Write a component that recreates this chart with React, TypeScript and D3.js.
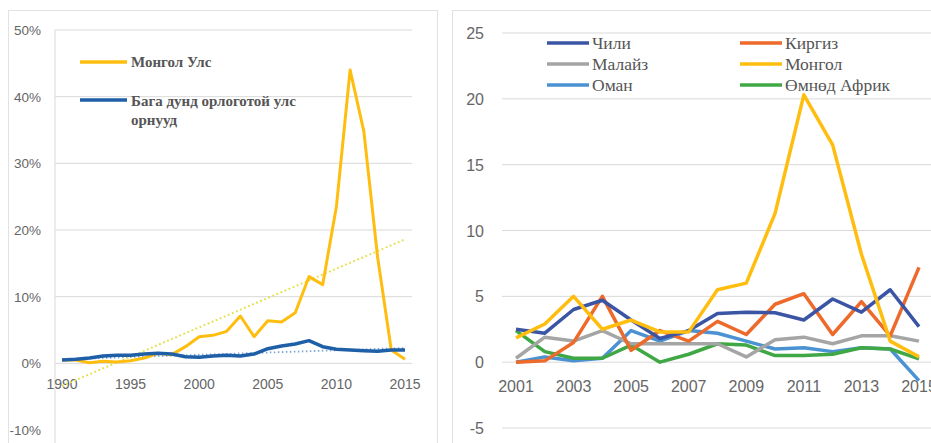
import * as d3 from "d3";
import React from "react";

// left chart: FDI share, 1990-2015
const yearsL = d3.range(1990, 2016);
const mongoliaL = [0.5, 0.5, 0.1, 0.3, 0.2, 0.4, 0.8, 1.5, 1.3, 2.5, 4.0, 4.2, 4.8, 7.1, 4.0, 6.4, 6.2, 7.6, 13.0, 11.8, 23.5, 44.0, 34.8, 16.0, 2.0, 0.6];
const lowerMid = [0.5, 0.6, 0.8, 1.1, 1.2, 1.2, 1.4, 1.5, 1.4, 1.0, 0.9, 1.1, 1.2, 1.1, 1.4, 2.2, 2.6, 2.9, 3.4, 2.5, 2.1, 2.0, 1.9, 1.8, 2.0, 2.0];
const trendMongolia = [-3.4, 18.6]; // 1990, 2015
const trendLowerMid = [0.6, 2.3];
const ticksL = [-10, 0, 10, 20, 30, 40, 50];
const xTicksL = [1990, 1995, 2000, 2005, 2010, 2015];

// right chart: 2001-2015
const yearsR = d3.range(2001, 2016);
const chile = [2.5, 2.2, 4.0, 4.7, 3.2, 1.8, 2.4, 3.7, 3.8, 3.75, 3.2, 4.8, 3.8, 5.5, 2.7];
const kyrgyz = [0.0, 0.1, 1.5, 5.0, 0.9, 2.4, 1.6, 3.1, 2.1, 4.4, 5.2, 2.1, 4.6, 2.0, 7.2];
const malaysia = [0.3, 1.9, 1.6, 2.4, 1.4, 1.4, 1.4, 1.4, 0.4, 1.7, 1.9, 1.4, 2.0, 2.0, 1.6];
const mongolia = [1.85, 2.9, 5.0, 2.5, 3.2, 2.3, 2.3, 5.5, 6.0, 11.3, 20.3, 16.5, 8.2, 1.6, 0.4];
const oman = [0.0, 0.4, 0.1, 0.3, 2.4, 1.6, 2.4, 2.2, 1.6, 1.0, 1.1, 0.8, 1.1, 1.0, -1.4];
const southAfrica = [2.4, 0.8, 0.3, 0.3, 1.3, 0.0, 0.6, 1.4, 1.3, 0.5, 0.5, 0.6, 1.1, 1.0, 0.25];
const ticksR = [-5, 0, 5, 10, 15, 20, 25];
const xTicksR = [2001, 2003, 2005, 2007, 2009, 2011, 2013, 2015];

const seriesR = [
  { name: "Чили", values: chile, color: "#3b55a5" },
  { name: "Киргиз", values: kyrgyz, color: "#ed6a2a" },
  { name: "Малайз", values: malaysia, color: "#a5a5a5" },
  { name: "Монгол", values: mongolia, color: "#ffbe0f" },
  { name: "Оман", values: oman, color: "#4a92d2" },
  { name: "Өмнөд Африк", values: southAfrica, color: "#3fa845" },
];
// draw order (back to front)
const drawOrder = ["Оман", "Өмнөд Африк", "Малайз", "Киргиз", "Чили", "Монгол"];

const grid = "#d9d9d9";
const tickColor = "#666";
const legendColor = "#555";

export default function App() {
  // left
  const xL = d3.scaleLinear().domain([1990, 2015]).range([62, 405]);
  const yL = d3.scaleLinear().domain([-10, 50]).range([430, 30]);
  const lineL = d3.line<number>().x((_, i) => xL(yearsL[i])).y((d) => yL(d));

  // right
  const xR = d3.scaleLinear().domain([2001, 2015]).range([516, 919]);
  const yR = d3.scaleLinear().domain([-5, 25]).range([428, 33]);
  const lineR = d3.line<number>().x((_, i) => xR(yearsR[i])).y((d) => yR(d));

  return (
    <svg width={931} height={443} style={{ position: "absolute", left: 0, top: 0, background: "#fff" }}>
      {/* panel frames */}
      <rect x={8.5} y={10.5} width={429} height={440} fill="#fff" stroke="#e2e2e2" />
      <rect x={452.5} y={10.5} width={490} height={440} fill="#fff" stroke="#e2e2e2" />

      {/* ---- left chart ---- */}
      <g fontFamily="'Liberation Sans', Arial, sans-serif">
        {ticksL.map((t) => (
          <g key={t}>
            {t !== 0 && t !== -10 && (
              <line x1={55} x2={412} y1={yL(t)} y2={yL(t)} stroke={grid} strokeWidth={1} />
            )}
            <text x={41} y={yL(t) + 5} textAnchor="end" fontSize={13.5} fill={tickColor}>
              {t}%
            </text>
          </g>
        ))}
        <line x1={55} x2={55} y1={30} y2={443} stroke={grid} />
        <line x1={55} x2={412} y1={yL(0)} y2={yL(0)} stroke={grid} />
        {xTicksL.map((t) => (
          <text key={t} x={xL(t)} y={389} textAnchor="middle" fontSize={14} fill={tickColor}>
            {t}
          </text>
        ))}
      </g>
      <line x1={xL(1990)} x2={xL(2015)} y1={yL(trendLowerMid[0])} y2={yL(trendLowerMid[1])}
        stroke="#7fa7d6" strokeWidth={1.8} strokeDasharray="1.5 2.5" />
      <line x1={xL(1990)} x2={xL(2015)} y1={yL(trendMongolia[0])} y2={yL(trendMongolia[1])}
        stroke="#e3e04a" strokeWidth={2} strokeDasharray="1.8 2.6" />
      <path d={lineL(mongoliaL) ?? ""} fill="none" stroke="#ffbe0f" strokeWidth={3} strokeLinejoin="round" />
      <path d={lineL(lowerMid) ?? ""} fill="none" stroke="#1f5fa8" strokeWidth={3.5} strokeLinejoin="round" />

      <g fontFamily="'Liberation Serif', 'Times New Roman', serif" fontSize={15} fill={legendColor} fontWeight="bold">
        <line x1={80} x2={127} y1={62} y2={62} stroke="#ffbe0f" strokeWidth={3.5} />
        <text x={131} y={67}>Монгол Улс</text>
        <line x1={80} x2={127} y1={100} y2={100} stroke="#1f5fa8" strokeWidth={3.5} />
        <text x={131} y={106}>Бага дунд орлоготой улс</text>
        <text x={131} y={125}>орнууд</text>
      </g>

      {/* ---- right chart ---- */}
      <g fontFamily="'Liberation Sans', Arial, sans-serif">
        {ticksR.map((t) => (
          <g key={t}>
            <line x1={502} x2={931} y1={yR(t)} y2={yR(t)} stroke={grid} strokeWidth={1} />
            <text x={484} y={yR(t) + 6} textAnchor="end" fontSize={16} fill={tickColor}>
              {t}
            </text>
          </g>
        ))}
        {xTicksR.map((t) => (
          <text key={t} x={xR(t)} y={392} textAnchor="middle" fontSize={16} fill={tickColor}>
            {t}
          </text>
        ))}
      </g>
      {drawOrder.map((n) => {
        const s = seriesR.find((d) => d.name === n)!;
        return (
          <path key={n} d={lineR(s.values) ?? ""} fill="none" stroke={s.color} strokeWidth={3.5} strokeLinejoin="round" />
        );
      })}
      <g fontFamily="'Liberation Serif', 'Times New Roman', serif" fontSize={17.5} fill={legendColor}>
        {seriesR.map((s, i) => {
          const col = i % 2;
          const row = Math.floor(i / 2);
          const lx = col === 0 ? 547 : 740;
          const ly = 43 + row * 21;
          return (
            <g key={s.name}>
              <line x1={lx} x2={lx + 42} y1={ly} y2={ly} stroke={s.color} strokeWidth={3.5} />
              <text x={lx + 45} y={ly + 6}>{s.name}</text>
            </g>
          );
        })}
      </g>
    </svg>
  );
}
